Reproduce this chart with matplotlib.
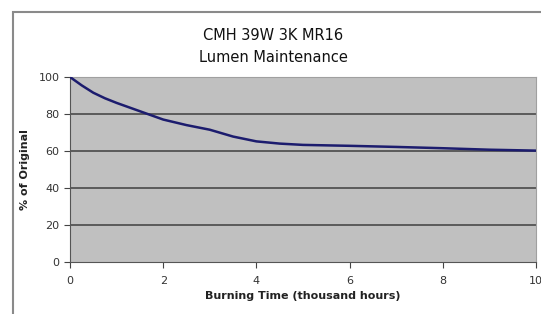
import numpy as np
import matplotlib
matplotlib.use('Agg')
import matplotlib.pyplot as plt
from matplotlib.patches import Rectangle

# Burning time (thousand hours) and lumen maintenance (% of original)
hours = [0, 0.25, 0.5, 0.75, 1.0, 1.5, 2.0, 2.5, 3.0, 3.5, 4.0, 4.5, 5.0, 6.0, 7.0, 8.0, 9.0, 10.0]
lumens = [100, 95.5, 91.5, 88.5, 86, 81.5, 77, 74, 71.5, 67.8, 65.2, 64, 63.3, 62.8, 62.2, 61.5, 60.7, 60.2]

x_ticks = [0, 2, 4, 6, 8, 10]
y_ticks = [0, 20, 40, 60, 80, 100]

fig = plt.figure(figsize=(5.41, 3.14), dpi=100)
fig.patch.set_facecolor('white')

# Outer chart frame
fig.patches.append(Rectangle((13 / 541, -0.02), 1.0, 1 - 12 / 314 + 0.02,
                             transform=fig.transFigure, fill=False,
                             edgecolor='#8a8a8a', linewidth=1.5))

ax = fig.add_axes([70 / 541, 52 / 314, 466 / 541, 185 / 314])
ax.set_facecolor('#c0c0c0')
for yv in y_ticks[1:]:
    ax.axhline(yv, color='#4a4a4a', linewidth=1.2, zorder=1)

ax.plot(hours, lumens, color='#1c1c6e', linewidth=1.8, zorder=3)

ax.set_xlim(0, 10)
ax.set_ylim(0, 100)
ax.set_xticks(x_ticks)
ax.set_yticks(y_ticks)
ax.tick_params(axis='both', labelsize=8, length=4, color='#444444', labelcolor='#333333')
ax.tick_params(axis='x', pad=6)

for side in ['top', 'right']:
    ax.spines[side].set_color('#a0a0a0')
for side in ['left', 'bottom']:
    ax.spines[side].set_color('#555555')

ax.set_xlabel('Burning Time (thousand hours)', fontsize=8, fontweight='bold', color='#222222', labelpad=4)
ax.set_ylabel('% of Original', fontsize=8, fontweight='bold', color='#222222', labelpad=6)

fig.text(273 / 541, 1 - 35 / 314, 'CMH 39W 3K MR16', ha='center', va='center', fontsize=10.5, color='#111111')
fig.text(273 / 541, 1 - 58 / 314, 'Lumen Maintenance', ha='center', va='center', fontsize=10.5, color='#111111')

fig.savefig('out.png', dpi=100)
